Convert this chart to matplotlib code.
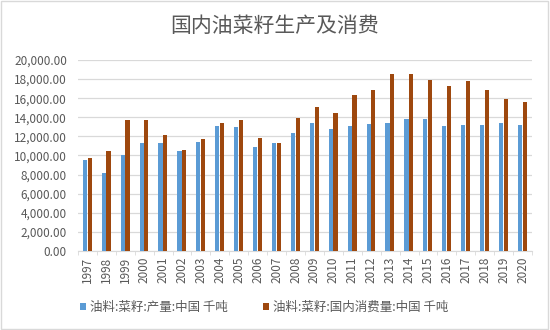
import numpy as np
import matplotlib
matplotlib.use("Agg")
import matplotlib.pyplot as plt
from matplotlib.patches import Patch, Rectangle
from matplotlib.ticker import FuncFormatter, MultipleLocator

plt.rcParams['font.family'] = ['Noto Sans CJK SC', 'DejaVu Sans']
plt.rcParams['font.weight'] = 'light'

years = [str(y) for y in range(1997, 2021)]
# 油料:菜籽:产量:中国 千吨
production = [9500, 8200, 10100, 11300, 11300, 10450, 11400, 13100, 13000, 10900,
              11300, 12400, 13450, 12750, 13050, 13350, 13450, 13850, 13850, 13050,
              13200, 13200, 13450, 13150]
# 油料:菜籽:国内消费量:中国 千吨
consumption = [9750, 10500, 13750, 13700, 12100, 10550, 11750, 13450, 13700, 11850,
               11300, 13950, 15050, 14500, 16300, 16900, 18500, 18500, 17950, 17250,
               17750, 16900, 15900, 15650]
labels = ["油料:菜籽:产量:中国 千吨", "油料:菜籽:国内消费量:中国 千吨"]

blue = "#5B9BD5"
brown = "#9E480E"
grey_txt = "#595959"
grid_c = "#D9D9D9"

fig = plt.figure(figsize=(5.5, 3.3), dpi=100)
ax = fig.add_axes([0.1418, 0.2394, 0.8255, 0.5788])

x = np.arange(len(years))
w = 0.22
ax.bar(x - 0.135, production, width=w, color=blue, zorder=3)
ax.bar(x + 0.115, consumption, width=w, color=brown, zorder=3)

ax.set_xlim(-0.5, len(years) - 0.5)
ax.set_ylim(0, 20000)
ax.yaxis.set_major_locator(MultipleLocator(2000))
ax.yaxis.set_major_formatter(FuncFormatter(lambda v, p: f"{v:,.2f}"))
ax.grid(axis='y', color=grid_c, linewidth=0.9, zorder=0)

ax.set_xticks(x)
ax.set_xticklabels(years, rotation=90)
ax.set_xticks(np.arange(-0.5, len(years), 1), minor=True)
ax.tick_params(axis='x', which='major', length=0, pad=4, labelsize=8.5, labelcolor=grey_txt)
ax.tick_params(axis='x', which='minor', length=3, color=grid_c)
ax.tick_params(axis='y', length=0, pad=8, labelsize=8.5, labelcolor=grey_txt)

for s in ['top', 'right', 'left']:
    ax.spines[s].set_visible(False)
ax.spines['bottom'].set_color(grid_c)

fig.text(0.5, 0.921, "国内油菜籽生产及消费", ha='center', va='center',
         fontsize=15, color=grey_txt)

handles = [Patch(facecolor=blue), Patch(facecolor=brown)]
fig.legend(handles, labels, loc='center', bbox_to_anchor=(0.48, 0.068), ncol=2,
           frameon=False, fontsize=9, labelcolor=grey_txt,
           handlelength=0.5, handleheight=0.5, handletextpad=0.3, columnspacing=2.8)

fig.patches.append(Rectangle((0.002, 0.003), 0.994, 0.994, transform=fig.transFigure,
                             fill=False, edgecolor=grid_c, linewidth=1))

fig.savefig("out.png", dpi=100)
